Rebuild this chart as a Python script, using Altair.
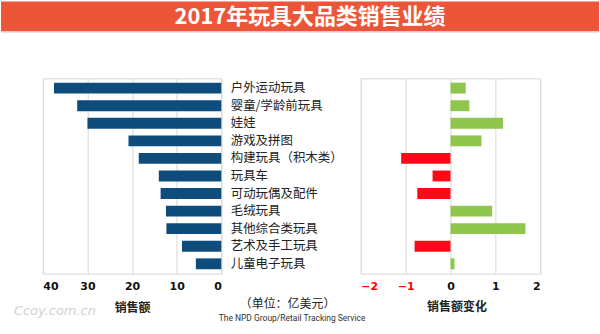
import altair as alt
import pandas as pd

categories = ["户外运动玩具", "婴童/学龄前玩具", "娃娃", "游戏及拼图", "构建玩具（积木类）",
              "玩具车", "可动玩偶及配件", "毛绒玩具", "其他综合类玩具", "艺术及手工玩具", "儿童电子玩具"]
sales = [37.5, 32.3, 30.0, 20.8, 18.5, 14.0, 13.6, 12.4, 12.3, 8.8, 5.7]
change = [0.34, 0.42, 1.17, 0.69, -1.10, -0.40, -0.74, 0.93, 1.67, -0.80, 0.09]
sales_ticks = [0, 10, 20, 30, 40]
change_ticks = [-2, -1, 0, 1, 2]

title_text = "2017年玩具大品类销售业绩"
left_title = "销售额"
right_title = "销售额变化"
unit_text = "（单位：亿美元）"
source_text = "The NPD Group/Retail Tracking Service"
watermark = "Ccoy.com.cn"

df = pd.DataFrame({"cat": categories, "sales": sales, "change": change})

CJK = "Noto Sans CJK SC"
W_L, W_R, H = 179, 180, 196
one = alt.Data(values=[{}])

yscale = alt.Scale(paddingInner=0.38, paddingOuter=0.25)

bars_left = alt.Chart(df).mark_bar(color="#0D4C7B").encode(
    x=alt.X("sales:Q",
            scale=alt.Scale(domain=[0, 40], reverse=True, nice=False),
            axis=alt.Axis(values=sales_ticks, title=None, domain=False, ticks=False,
                          grid=True, gridColor="#D9D9D9", labelPadding=7,
                          labelFontSize=11, labelFontWeight="bold", labelColor="#111",
                          labelFont="DejaVu Sans")),
    y=alt.Y("cat:N", sort=categories, scale=yscale,
            axis=alt.Axis(orient="right", title=None, domain=False, ticks=False,
                          labelPadding=9, labelFontSize=12.5, labelColor="#222",
                          labelFont=CJK, labelAlign="left")),
)

def txt(s, x, y, **kw):
    return alt.Chart(one).mark_text(text=s, **kw).encode(x=alt.value(x), y=alt.value(y))

bounds_rect = alt.Chart(one).mark_rect(fillOpacity=0, strokeOpacity=0).encode(
    x=alt.value(-42), x2=alt.value(558), y=alt.value(-77), y2=alt.value(257))
banner = alt.Chart(one).mark_rect(color="#EC5537").encode(
    x=alt.value(-42), x2=alt.value(558), y=alt.value(-77), y2=alt.value(-47))
banner_line = alt.Chart(one).mark_rect(color="#E2E2E2").encode(
    x=alt.value(-42), x2=alt.value(558), y=alt.value(-47), y2=alt.value(-45.5))

title = txt(title_text, 268, -61, font=CJK, fontSize=22, fontWeight="bold",
            color="white", align="center", baseline="middle")
lt = txt(left_title, 90, 230, font=CJK, fontSize=12, fontWeight="bold",
         color="#222", align="center", baseline="middle")
unit = txt(unit_text, 245.5, 226, font=CJK, fontSize=12, color="#222",
           align="center", baseline="middle")
src = txt(source_text, 250, 241, font="Roboto", fontSize=8.5, color="#333",
          align="center", baseline="middle")
rt = txt(right_title, 415.5, 229, font=CJK, fontSize=12, fontWeight="bold",
         color="#222", align="center", baseline="middle")
wm = txt(watermark, -29, 233, font="DejaVu Sans", fontSize=13, fontStyle="italic",
         color="#D0D0D0", align="left", baseline="middle")

left = alt.layer(bounds_rect, banner, banner_line, title, bars_left, lt, unit, src, rt, wm
                 ).properties(width=W_L, height=H)

right = alt.Chart(df).mark_bar().encode(
    x=alt.X("change:Q",
            scale=alt.Scale(domain=[-2, 2], nice=False),
            axis=alt.Axis(values=change_ticks, title=None, domain=False, ticks=False,
                          grid=True, gridColor="#D9D9D9", labelPadding=7,
                          labelFontSize=11, labelFontWeight="bold",
                          labelFont="DejaVu Sans",
                          labelColor={"condition": {"test": "datum.value < 0", "value": "#FF0000"},
                                      "value": "#111111"})),
    y=alt.Y("cat:N", sort=categories, scale=yscale, axis=None),
    color=alt.condition(alt.datum.change > 0, alt.value("#8FC64E"), alt.value("#FA0A16")),
).properties(width=W_R, height=H)

chart = alt.hconcat(left, right, spacing=140, bounds="flush").properties(
    padding=0, background="white"
).configure_view(stroke="#D6D6D6")

chart.save("out.html", embed_options={"renderer": "svg", "actions": False})
